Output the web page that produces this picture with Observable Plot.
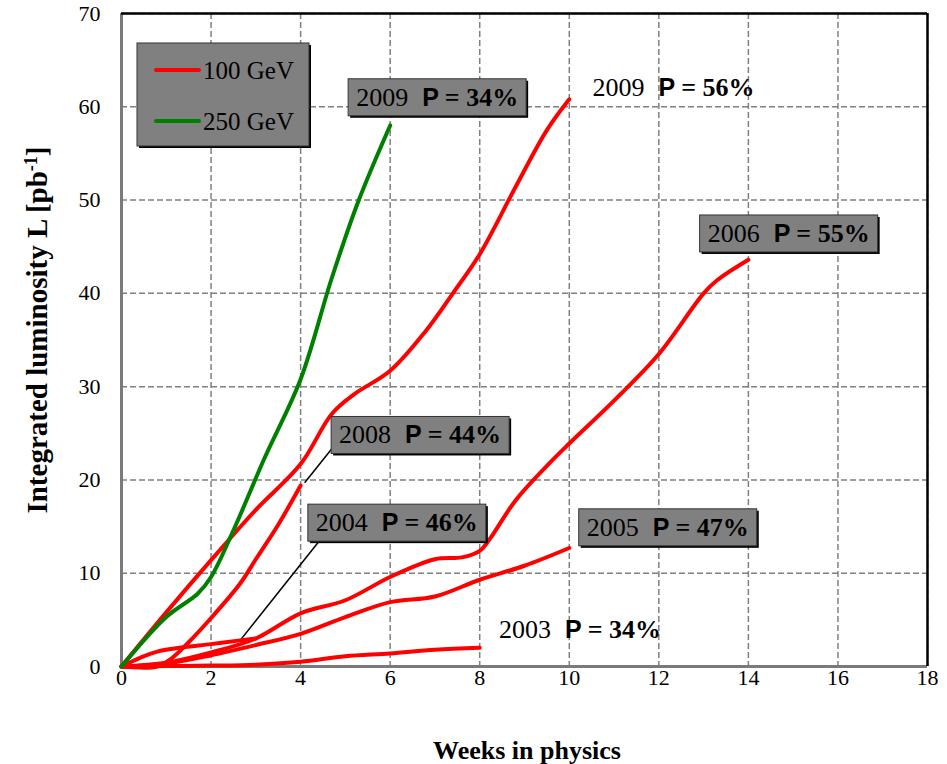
<!DOCTYPE html>
<html><head><meta charset="utf-8">
<script src="https://cdn.jsdelivr.net/npm/d3@7"></script>
<script src="https://cdn.jsdelivr.net/npm/@observablehq/plot@0.6"></script>
<style>body{margin:0;background:#fff;} svg{display:block}</style>
</head><body><div id="chart"></div>
<script>
// ---- data ----
const xTicks = [0,2,4,6,8,10,12,14,16,18];
const yTicks = [0,10,20,30,40,50,60,70];

const energies = ["100 GeV","250 GeV"];
const energyColors = ["#ff0000","#008000"];

const seriesNames = ["2003","2004","2005","2006","2008","2009 (100 GeV)","2009 (250 GeV)"];
const seriesEnergy = ["100 GeV","100 GeV","100 GeV","100 GeV","100 GeV","100 GeV","250 GeV"];

const weeks2003 = [0,1,2,3,4,5,6,7,8];
const lumi2003  = [0,0.05,0.1,0.2,0.5,1.1,1.4,1.8,2.0];

const weeks2004 = [0,0.4,0.8,1.3,2,2.65,3];
const lumi2004  = [0,0.9,1.6,2.0,2.4,2.8,3.0];

const weeks2005 = [0,1,2,3,4,5,6,7,8,9,10];
const lumi2005  = [0,0.3,1.2,2.3,3.5,5.3,6.9,7.5,9.3,10.8,12.7];

const weeks2006 = [0,1,2,3,4,5,6,7,7.6,8,8.2,8.8,9.5,10,11,12,13,13.3,14];
const lumi2006  = [0,0.4,1.5,3.0,5.7,7.1,9.6,11.5,11.7,12.4,13.5,17.8,21.5,23.9,28.5,33.5,40,41.4,43.6];

const weeks2008 = [0,0.8,1.1,1.5,2,2.65,3,3.5,4];
const lumi2008  = [0,0,0.8,2.6,5.2,8.9,11.5,15.2,19.4];

const weeks2009a = [0,1,2,3,4,4.7,5.2,6,6.8,7.4,8,8.8,9.5,10];
const lumi2009a  = [0,5.8,11.4,16.8,21.7,27.1,29.2,31.7,36,40,44.2,51.4,57.5,60.8];

const weeks2009b = [0,1,1.7,2,2.5,3.2,4,4.7,5.3,6];
const lumi2009b  = [0,5.3,7.8,9.6,14.6,22.4,30.8,41.7,50,58];

const seriesWeeks = [weeks2003,weeks2004,weeks2005,weeks2006,weeks2008,weeks2009a,weeks2009b];
const seriesLumi  = [lumi2003,lumi2004,lumi2005,lumi2006,lumi2008,lumi2009a,lumi2009b];

// annotations: year, polarisation, anchor (data coords), boxed
const annYear  = ["2009","2009","2006","2008","2004","2005","2003"];
const annP     = ["34%","56%","55%","44%","46%","47%","34%"];
const annX     = [5.24,10.52,13.09,4.86,4.34,10.39,8.43];
const annY     = [61.0,62.0,46.4,24.8,15.4,14.9,3.9];
const annBoxed = [true,false,true,true,true,true,false];

// leader lines from labels to curves
const ptrX1 = [4.79,4.39], ptrY1 = [23.9,13.3];
const ptrX2 = [4.09,2.65], ptrY2 = [19.7,2.8];

// ---- build tables ----
const rows = [];
seriesNames.forEach((s,i)=>seriesWeeks[i].forEach((w,j)=>rows.push({series:s, energy:seriesEnergy[i], week:w, lumi:seriesLumi[i][j]})));
const redRows = rows.filter(d=>d.energy==="100 GeV");
const greenRows = rows.filter(d=>d.energy==="250 GeV");
const ann = annYear.map((y,i)=>({year:y, p:annP[i], x:annX[i], y:annY[i], boxed:annBoxed[i]}));
const ptrs = ptrX1.map((x,i)=>({x1:x, y1:ptrY1[i], x2:ptrX2[i], y2:ptrY2[i]}));

const serif = "'Liberation Serif','Times New Roman',serif";
const sans = "'Liberation Sans',Arial,sans-serif";
const gridStyle = {stroke:"#808080", strokeOpacity:1, strokeWidth:1.5, strokeDasharray:"6,3"};

const chart = Plot.plot({
  width:947, height:764,
  marginLeft:121, marginRight:20, marginTop:13, marginBottom:98,
  x:{domain:[0,18], label:null},
  y:{domain:[0,70], label:null},
  color:{domain:energies, range:energyColors},
  style:{fontFamily:serif, fontSize:"22px", color:"#000", background:"#fff", overflow:"visible"},
  marks:[
    Plot.gridX(xTicks, gridStyle),
    Plot.gridY(yTicks, gridStyle),
    Plot.axisX(xTicks, {tickSize:0, tickPadding:3, label:null, fontSize:22, tickFormat:d=>String(d)}),
    Plot.axisY(yTicks, {tickSize:0, tickPadding:21, label:null, fontSize:22, tickFormat:d=>String(d)}),
    Plot.ruleY([0], {stroke:"#7a7a7a", strokeWidth:3}),
    Plot.ruleX([0], {stroke:"#7a7a7a", strokeWidth:3}),
    Plot.ruleY([70], {stroke:"#000", strokeWidth:2.5}),
    Plot.ruleX([18], {stroke:"#000", strokeWidth:2.5}),
    Plot.link(ptrs, {x1:"x1", y1:"y1", x2:"x2", y2:"y2", stroke:"#000", strokeWidth:1.5}),
    Plot.line(redRows, {x:"week", y:"lumi", z:"series", stroke:"energy", strokeWidth:4, curve:"catmull-rom", strokeLinecap:"round"}),
    Plot.line(greenRows, {x:"week", y:"lumi", z:"series", stroke:"energy", strokeWidth:4, curve:"catmull-rom", strokeLinecap:"round"}),
    Plot.text(ann, {x:"x", y:"y", text:"year", textAnchor:"start", fontSize:26, fill:"#000", className:"ann"})
  ]
});
document.getElementById("chart").appendChild(chart);

const svg = d3.select(chart);
const NS = "http://www.w3.org/2000/svg";
// rich annotation text + boxes
svg.selectAll("g.ann text").each(function(_,i){
  const d = ann[i];
  const t = d3.select(this);
  t.text(null);
  t.append("tspan").attr("font-family", serif).text(d.year);
  t.append("tspan").attr("dx", 14).attr("font-family", sans).attr("font-weight","bold").attr("font-size", 25).text("P");
  t.append("tspan").attr("dx", 6).attr("font-family", serif).attr("font-weight","bold").text("= " + d.p);
  if (d.boxed) {
    const b = this.getBBox();
    const px = 8, py = 4;
    const tr = this.getAttribute("transform");
    const parent = this.parentNode;
    const sh = document.createElementNS(NS,"rect");
    d3.select(sh).attr("transform", tr).attr("x", b.x - px + 2).attr("y", b.y - py + 2).attr("width", b.width + 2*px).attr("height", b.height + 2*py).attr("fill","#000");
    const r = document.createElementNS(NS,"rect");
    d3.select(r).attr("transform", tr).attr("x", b.x - px).attr("y", b.y - py).attr("width", b.width + 2*px).attr("height", b.height + 2*py).attr("fill","#808080").attr("stroke","#333").attr("stroke-width",1);
    parent.insertBefore(sh, this);
    parent.insertBefore(r, this);
  }
});

// legend
const lg = svg.append("g").attr("text-anchor","start");
lg.append("rect").attr("x",139).attr("y",45).attr("width",172).attr("height",103).attr("fill","#000");
lg.append("rect").attr("x",137).attr("y",43).attr("width",172).attr("height",103).attr("fill","#808080").attr("stroke","#333");
energies.forEach((e,i)=>{
  const y = 70 + i*51;
  lg.append("line").attr("x1",156).attr("x2",199).attr("y1",y).attr("y2",y).attr("stroke",energyColors[i]).attr("stroke-width",4).attr("stroke-linecap","round");
  lg.append("text").attr("x",203).attr("y",y).attr("dy","0.35em").attr("text-anchor","start").attr("font-family",serif).attr("font-size",25).text(e);
});

// axis titles
svg.append("text").attr("x",527).attr("y",750).attr("dy","0.35em").attr("text-anchor","middle")
  .attr("font-family",serif).attr("font-weight","bold").attr("font-size",26).text("Weeks in physics");
const yt = svg.append("text").attr("transform","translate(37,330) rotate(-90)").attr("dy","0.35em").attr("text-anchor","middle")
  .attr("font-family",serif).attr("font-weight","bold").attr("font-size",29);
yt.append("tspan").text("Integrated luminosity L [pb");
yt.append("tspan").attr("baseline-shift","super").attr("font-size",18).text("-1");
yt.append("tspan").text("]");
</script>
</body></html>
